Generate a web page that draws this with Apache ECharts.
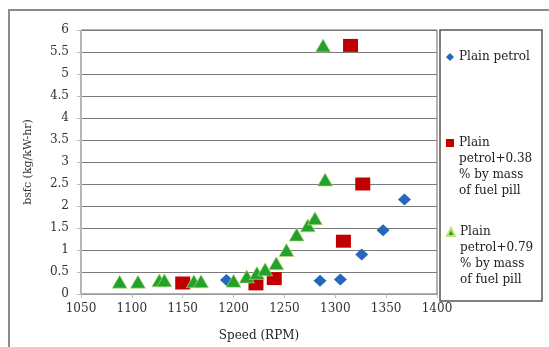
<!DOCTYPE html>
<html>
<head>
<meta charset="utf-8">
<script src="https://cdn.jsdelivr.net/npm/echarts@6/dist/echarts.min.js"></script>
<style>html,body{margin:0;padding:0;background:#fff}#c{width:549px;height:347px}</style>
</head>
<body>
<div id="c"></div>
<script>
var xTicks = [1050, 1100, 1150, 1200, 1250, 1300, 1350, 1400];
var yTicks = [0, 0.5, 1, 1.5, 2, 2.5, 3, 3.5, 4, 4.5, 5, 5.5, 6];
var seriesNames = ['Plain petrol', 'Plain petrol+0.38 % by mass of fuel pill', 'Plain petrol+0.79 % by mass of fuel pill'];
var plainPetrol = [[1193, 0.32], [1285, 0.3], [1305, 0.33], [1326, 0.9], [1347, 1.45], [1368, 2.15]];
var petrol038 = [[1150, 0.25], [1222, 0.23], [1240, 0.35], [1308, 1.2], [1327, 2.5], [1315, 5.65]];
var petrol079 = [[1088, 0.28], [1106, 0.28], [1127, 0.31], [1132, 0.31], [1161, 0.29], [1168, 0.29],
  [1200, 0.3], [1213, 0.4], [1223, 0.48], [1231, 0.56], [1242, 0.7], [1252, 1.0], [1262, 1.35],
  [1273, 1.56], [1280, 1.72], [1290, 2.6], [1288, 5.65]];

var FONT = 'DejaVu Serif';
var chart = echarts.init(document.getElementById('c'));
function legendItem(name, icon, top, lines) {
  return {
    data: [{name: name, icon: icon}],
    orient: 'vertical', left: 446, top: top, padding: 0,
    itemWidth: 8, itemHeight: 8, itemGap: 0,
    formatter: function () { return lines; },
    textStyle: {fontFamily: FONT, fontSize: 12, color: '#222', lineHeight: 16}
  };
}
chart.setOption({
  animation: false,
  color: ['#2468be', '#c00000', '#22a22c'],
  grid: {left: 81, right: 112, top: 30, bottom: 51, show: true, borderColor: '#666', borderWidth: 1},
  graphic: [
    {type: 'rect', shape: {x: 9, y: 10, width: 560, height: 360}, style: {fill: 'none', stroke: '#8c8c8c', lineWidth: 2}, z: -1},
    {type: 'rect', shape: {x: 440, y: 30, width: 102, height: 271}, style: {fill: 'none', stroke: '#555', lineWidth: 1.5}, z: -1}
  ],
  legend: [
    legendItem(seriesNames[0], 'diamond', 49, 'Plain petrol'),
    legendItem(seriesNames[1], 'rect', 87, '\n\n\nPlain\npetrol+0.38\n% by mass\nof fuel pill'),
    legendItem(seriesNames[2], 'triangle', 176, '\n\n\nPlain\npetrol+0.79\n% by mass\nof fuel pill')
  ],
  xAxis: {
    type: 'value', min: xTicks[0], max: xTicks[xTicks.length - 1], interval: 50,
    name: 'Speed (RPM)', nameLocation: 'middle', nameGap: 36,
    nameTextStyle: {fontFamily: FONT, fontSize: 12, color: '#222'},
    axisLine: {lineStyle: {color: '#999'}},
    axisTick: {show: true, length: 4, lineStyle: {color: '#bbb'}},
    axisLabel: {fontFamily: FONT, fontSize: 12, color: '#333', margin: 9,
      formatter: function (v) { return String(v); }},
    splitLine: {show: false}
  },
  yAxis: {
    type: 'value', min: yTicks[0], max: yTicks[yTicks.length - 1], interval: 0.5,
    name: 'bsfc (kg/kW-hr)', nameLocation: 'middle', nameGap: 47, nameRotate: 90,
    nameTextStyle: {fontFamily: FONT, fontSize: 11, color: '#333'},
    axisLine: {show: true, lineStyle: {color: '#bbb'}},
    axisTick: {show: true, length: 4, lineStyle: {color: '#bbb'}},
    axisLabel: {fontFamily: FONT, fontSize: 12, color: '#333', margin: 12},
    splitLine: {lineStyle: {color: '#7a7a7a', width: 1}}
  },
  series: [
    {name: seriesNames[0], type: 'scatter', symbol: 'diamond', symbolSize: [13, 12], data: plainPetrol, z: 3,
      itemStyle: {opacity: 1}},
    {name: seriesNames[1], type: 'scatter', symbol: 'rect', symbolSize: [15, 13], data: petrol038, z: 4,
      itemStyle: {opacity: 1}},
    {name: seriesNames[2], type: 'scatter', symbol: 'triangle', symbolSize: [15, 13], data: petrol079, z: 5,
      itemStyle: {opacity: 1, borderColor: '#c8e07a', borderWidth: 0.6}}
  ]
});
</script>
</body>
</html>
